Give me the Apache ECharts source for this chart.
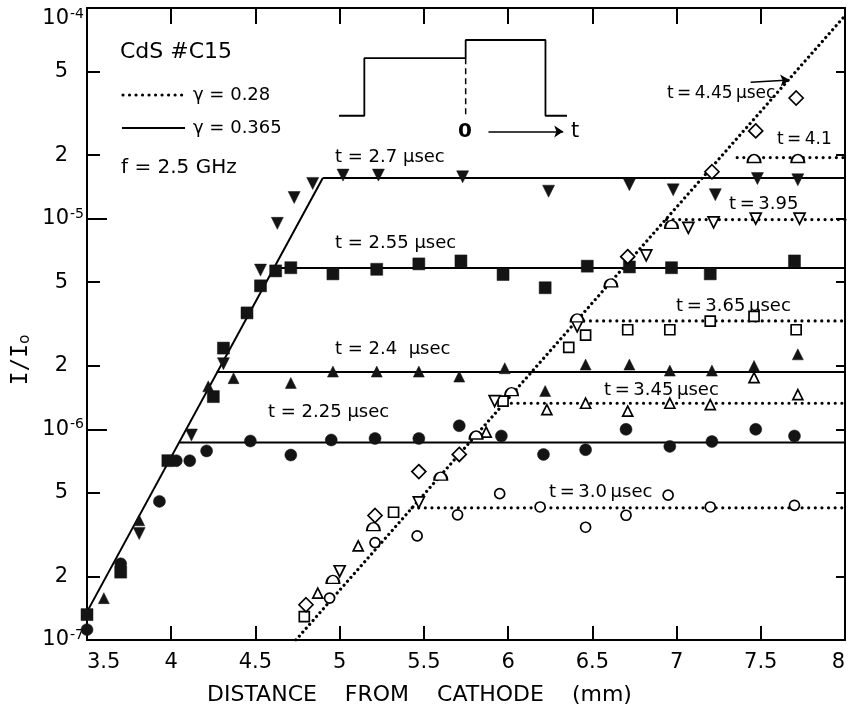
<!DOCTYPE html>
<html>
<head>
<meta charset="utf-8">
<title>CdS #C15 - I/Io vs distance from cathode</title>
<script src="https://cdn.jsdelivr.net/npm/echarts@6/dist/echarts.min.js"></script>
<style>
  html, body { margin: 0; padding: 0; background: #fff; }
  #chart { width: 848px; height: 713px; }
</style>
</head>
<body>
<div id="chart"></div>
<script>
const FONT = 'DejaVu Sans'
const INK = '#000'

// measured points [distance (mm), I/I0], one array per time after the pulse
const t27 = [[3.81, 3.2e-7], [4.12, 9.4e-7], [4.31, 2.05e-6], [4.53, 5.7e-6], [4.63, 9.5e-6], [4.73, 1.26e-5], [4.84, 1.47e-5], [5.02, 1.61e-5], [5.23, 1.61e-5], [5.73, 1.58e-5], [6.24, 1.35e-5], [6.72, 1.45e-5], [6.98, 1.37e-5], [7.23, 1.30e-5], [7.48, 1.55e-5], [7.72, 1.53e-5]]
const t255 = [[3.5, 1.32e-7], [3.70, 2.1e-7], [3.98, 7.1e-7], [4.25, 1.43e-6], [4.31, 2.43e-6], [4.45, 3.57e-6], [4.53, 4.8e-6], [4.62, 5.65e-6], [4.71, 5.85e-6], [4.96, 5.47e-6], [5.22, 5.75e-6], [5.47, 6.1e-6], [5.72, 6.3e-6], [5.97, 5.43e-6], [6.22, 4.7e-6], [6.47, 5.95e-6], [6.72, 5.9e-6], [6.97, 5.85e-6], [7.20, 5.47e-6], [7.70, 6.3e-6]]
const t24 = [[3.60, 1.58e-7], [3.81, 3.7e-7], [4.22, 1.6e-6], [4.37, 1.75e-6], [4.71, 1.66e-6], [4.96, 1.88e-6], [5.22, 1.88e-6], [5.47, 1.88e-6], [5.71, 1.78e-6], [5.98, 1.95e-6], [6.22, 1.52e-6], [6.46, 2.03e-6], [6.72, 2.03e-6], [6.96, 1.9e-6], [7.21, 1.9e-6], [7.46, 2.0e-6], [7.72, 2.27e-6]]
const t225 = [[3.5, 1.12e-7], [3.70, 2.3e-7], [3.93, 4.55e-7], [4.03, 7.1e-7], [4.11, 7.1e-7], [4.21, 7.9e-7], [4.47, 8.8e-7], [4.71, 7.55e-7], [4.95, 8.9e-7], [5.21, 9.05e-7], [5.47, 9.05e-7], [5.71, 1.04e-6], [5.96, 9.3e-7], [6.21, 7.6e-7], [6.46, 8.0e-7], [6.70, 1.0e-6], [6.96, 8.3e-7], [7.21, 8.75e-7], [7.47, 1.0e-6], [7.70, 9.3e-7]]
const t30 = [[4.94, 1.58e-7], [5.21, 2.9e-7], [5.46, 3.12e-7], [5.70, 3.93e-7], [5.95, 4.95e-7], [6.19, 4.28e-7], [6.46, 3.43e-7], [6.70, 3.91e-7], [6.95, 4.87e-7], [7.20, 4.28e-7], [7.70, 4.36e-7]]
const t345 = [[4.87, 1.67e-7], [5.11, 2.8e-7], [5.87, 9.7e-7], [6.23, 1.24e-6], [6.46, 1.33e-6], [6.71, 1.22e-6], [6.96, 1.33e-6], [7.20, 1.31e-6], [7.46, 1.76e-6], [7.72, 1.46e-6]]
const t365 = [[4.79, 1.29e-7], [5.32, 4.04e-7], [5.97, 1.36e-6], [6.36, 2.45e-6], [6.46, 2.8e-6], [6.71, 2.97e-6], [6.96, 2.97e-6], [7.20, 3.26e-6], [7.46, 3.44e-6], [7.71, 2.97e-6]]
const t395 = [[5.00, 2.12e-7], [5.47, 4.5e-7], [5.92, 1.36e-6], [6.41, 3.08e-6], [6.82, 6.7e-6], [7.07, 9.05e-6], [7.22, 9.6e-6], [7.47, 1.0e-5], [7.73, 1.0e-5]]
const t41 = [[4.96, 1.94e-7], [5.20, 3.45e-7], [5.60, 6.0e-7], [5.81, 9.4e-7], [6.02, 1.51e-6], [6.41, 3.38e-6], [6.61, 4.96e-6], [6.97, 9.4e-6], [7.46, 1.93e-5], [7.72, 1.93e-5]]
const t445 = [[4.80, 1.47e-7], [5.21, 3.9e-7], [5.47, 6.3e-7], [5.71, 7.6e-7], [6.71, 6.6e-6], [7.21, 1.67e-5], [7.47, 2.61e-5], [7.71, 3.74e-5]]

// theoretical curves: steep part + saturation levels
const xEnd = 8
const solidSteep = [[3.5, 1.36e-7], [4.90, 1.56e-5]]        // gamma = 0.365
const solidStartX = [4.90, 4.61, 4.27, 4.05]
const solidLevel = [1.56e-5, 5.84e-6, 1.87e-6, 8.67e-7]
const dottedSteep = [[4.74, 1.0e-7], [8.0, 9.2e-5]]         // gamma = 0.28
const dottedStartX = [5.43, 5.98, 6.41, 6.94, 7.36]
const dottedLevel = [4.24e-7, 1.33e-6, 3.27e-6, 9.9e-6, 1.95e-5]
const arrow445 = [[7.44, 4.44e-5], [7.67, 4.55e-5]]

// y ticks
const yMinorTicks = [2e-7, 5e-7, 2e-6, 5e-6, 2e-5, 5e-5]
const yMinorLabels = ['2', '5', '2', '5', '2', '5']
const yAllTicks = [1e-7, 2e-7, 5e-7, 1e-6, 2e-6, 5e-6, 1e-5, 2e-5, 5e-5, 1e-4]

// inset: applied pulse
const pulseT = [-5, -4, -4, 0, 0, 3.15, 3.15, 4]
const pulseLevel = [0, 0, 2.28, 2.28, 3, 3, 0, 0]
const pulseMark = [[0, 2.28], [0, 0]]
const pulseArrow = [[0.9, -0.62], [3.85, -0.62]]

const chart = echarts.init(document.getElementById('chart'))

const filled = { color: '#141414', borderColor: '#141414', borderWidth: 0.5, opacity: 1 }
const hollow = { color: '#fff', borderColor: INK, borderWidth: 1.7, opacity: 1 }

const pts = (name, data, symbol, size, style, rotate) => ({
  name, type: 'scatter', data, symbol, symbolSize: size, symbolRotate: rotate || 0,
  itemStyle: style, z: 4, silent: true
})

const dots = (gap) => ({ color: INK, width: 3.2, type: [0.01, gap], cap: 'round' })
const solid = { color: INK, width: 2 }

const seg = (data, lineStyle, extra) => Object.assign({
  type: 'line', data, symbol: 'none', lineStyle, z: 2, silent: true
}, extra || {})

const domePath = 'path://M0,10A10,10,0,0,1,20,10Z'

const series = [
  seg(solidSteep, solid, { name: 'γ = 0.365' }),
  ...solidStartX.map((x0, i) => seg([[x0, solidLevel[i]], [xEnd, solidLevel[i]]], solid)),
  seg(dottedSteep, dots(5.2), {
    name: 'γ = 0.28',
    markLine: {
      silent: true, symbol: ['none', 'arrow'], symbolSize: 9,
      label: { show: false },
      lineStyle: { color: INK, width: 1.5, type: 'solid', curveness: -0.7 },
      data: [[{ coord: arrow445[0] }, { coord: arrow445[1] }]]
    }
  }),
  ...dottedStartX.map((x0, i) => seg([[x0, dottedLevel[i]], [xEnd, dottedLevel[i]]], dots(6.6))),
  pts('t = 2.7', t27, 'triangle', 12, filled, 180),
  pts('t = 2.55', t255, 'rect', 12, filled),
  pts('t = 2.4', t24, 'triangle', 11, filled),
  pts('t = 2.25', t225, 'circle', 12, filled),
  pts('t = 3.0', t30, 'circle', 10, hollow),
  pts('t = 3.45', t345, 'triangle', 10, hollow),
  pts('t = 3.65', t365, 'rect', 10, hollow),
  pts('t = 3.95', t395, 'triangle', 11, hollow, 180),
  pts('t = 4.1', t41, domePath, [13, 8], hollow),
  pts('t = 4.45', t445, 'diamond', 14, hollow),
  // inset pulse
  {
    type: 'line', xAxisIndex: 2, yAxisIndex: 3, silent: true, symbol: 'none',
    data: pulseT.map((t, i) => [t, pulseLevel[i]]),
    lineStyle: { color: INK, width: 1.8 },
    markLine: {
      silent: true, symbol: ['none', 'arrow'], symbolSize: 9,
      label: { show: false },
      lineStyle: { color: INK, width: 1.5, type: 'solid' },
      data: [[{ coord: pulseArrow[0] }, { coord: pulseArrow[1] }]]
    }
  },
  {
    type: 'line', xAxisIndex: 2, yAxisIndex: 3, silent: true, symbol: 'none',
    data: pulseMark, lineStyle: { color: INK, width: 1.5, type: [6, 4] }
  }
]

const axisLine = { show: true, lineStyle: { color: INK, width: 2 } }
const tickStyle = { color: INK, width: 2 }
const tickFont = { color: INK, fontSize: 21, fontFamily: FONT }

const text = (x, y, str, size, extra) => ({
  type: 'text', x, y, silent: true,
  style: Object.assign({
    text: str, fontSize: size, fontFamily: FONT, fill: INK,
    textAlign: 'left', textVerticalAlign: 'middle'
  }, extra || {})
})

const th = '\u2009'  // thin space for the tightly set labels
const graphic = [
  text(120, 52, 'CdS #C15', 22),
  { type: 'line', silent: true, shape: { x1: 123, y1: 95, x2: 184, y2: 95 },
    style: { stroke: INK, lineWidth: 3.2, lineDash: [0.01, 6.5], lineCap: 'round' } },
  text(193, 95, 'γ = 0.28', 18),
  { type: 'line', silent: true, shape: { x1: 122, y1: 128, x2: 185, y2: 128 },
    style: { stroke: INK, lineWidth: 2 } },
  text(193, 128, 'γ = 0.365', 18),
  text(121, 168, 'f = 2.5 GHz', 20),
  text(335, 157, 't = 2.7 µsec', 18),
  text(335, 243, 't = 2.55 µsec', 18),
  text(335, 349, 't = 2.4  µsec', 18),
  text(268, 412, 't = 2.25 µsec', 18),
  text(549, 492, 't' + th + '=' + th + '3.0' + th + 'µsec', 18),
  text(604, 390, 't' + th + '=' + th + '3.45' + th + 'µsec', 18),
  text(676, 306, 't' + th + '=' + th + '3.65' + th + 'µsec', 18),
  text(729, 204, 't' + th + '=' + th + '3.95', 18),
  text(777, 140, 't' + th + '=' + th + '4.1', 17),
  text(667, 94, 't' + th + '=' + th + '4.45' + th + 'µsec', 17),
  text(465, 132, '0', 20, { textAlign: 'center', fontWeight: 'bold' }),
  text(575, 132, 't', 21, { textAlign: 'center' }),
  text(207, 695, 'DISTANCE    FROM    CATHODE    (mm)', 22),
  {
    type: 'text', x: 21, y: 360, rotation: Math.PI / 2, silent: true,
    style: {
      text: '{a|I/I}{b|o}', fill: INK, textAlign: 'center', textVerticalAlign: 'middle',
      rich: {
        a: { fontSize: 23, fontFamily: 'DejaVu Sans Mono', fill: INK },
        b: { fontSize: 15, fontFamily: FONT, fill: INK, verticalAlign: 'bottom' }
      }
    }
  }
]

const decadeLabel = v => {
  const e = Math.round(Math.log10(v))
  const s = '{b|10}{s|' + e + '}'
  // the top label sits below its tick, inside the figure
  return e === -4 ? '{gap| }\n' + s : s
}

const option = {
  animation: false,
  backgroundColor: '#fff',
  grid: [
    { left: 87, right: 3, top: 8, bottom: 73, outerBoundsMode: 'none' },
    { left: 339, right: 281, top: 40, bottom: 572, outerBoundsMode: 'none' }
  ],
  xAxis: [
    {
      gridIndex: 0, type: 'value', min: 3.5, max: 8, interval: 0.5, position: 'bottom',
      axisLine, axisTick: { inside: true, length: 14, lineStyle: tickStyle },
      axisLabel: Object.assign({ margin: 12, alignMinLabel: 'left', alignMaxLabel: 'right' }, tickFont),
      splitLine: { show: false }
    },
    {
      gridIndex: 0, type: 'value', min: 3.5, max: 8, interval: 0.5, position: 'top',
      axisLine, axisTick: { inside: true, length: 16, lineStyle: tickStyle },
      axisLabel: { show: false }, splitLine: { show: false }
    },
    { gridIndex: 1, type: 'value', min: -5, max: 4, show: false }
  ],
  yAxis: [
    {
      gridIndex: 0, type: 'log', logBase: 10, min: 1e-7, max: 1e-4, position: 'left',
      axisLine, axisTick: { inside: true, length: 20, lineStyle: tickStyle },
      splitLine: { show: false }, minorTick: { show: false },
      axisLabel: {
        margin: 3,
        formatter: decadeLabel,
        rich: {
          b: { fontSize: 21, fontFamily: FONT, color: INK },
          s: { fontSize: 14, fontFamily: FONT, color: INK, verticalAlign: 'top', padding: [0, 0, 9, 1] },
          gap: { fontSize: 2, lineHeight: 22 }
        }
      }
    },
    {
      gridIndex: 0, type: 'value', min: -7, max: -4, position: 'left',
      axisLine: { show: false },
      axisTick: { inside: true, length: 13, lineStyle: tickStyle, customValues: yMinorTicks.map(Math.log10) },
      axisLabel: Object.assign({
        margin: 19,
        customValues: yMinorTicks.map(Math.log10),
        formatter: v => yMinorLabels[yMinorTicks.findIndex(t => Math.abs(Math.log10(t) - v) < 1e-6)]
      }, tickFont),
      splitLine: { show: false }
    },
    {
      gridIndex: 0, type: 'value', min: -7, max: -4, position: 'right',
      axisLine,
      axisTick: { inside: true, length: 9, lineStyle: tickStyle, customValues: yAllTicks.map(Math.log10) },
      axisLabel: { show: false }, splitLine: { show: false }
    },
    { gridIndex: 1, type: 'value', min: -1, max: 3, show: false }
  ],
  series,
  graphic
}

chart.setOption(option)
</script>
</body>
</html>
